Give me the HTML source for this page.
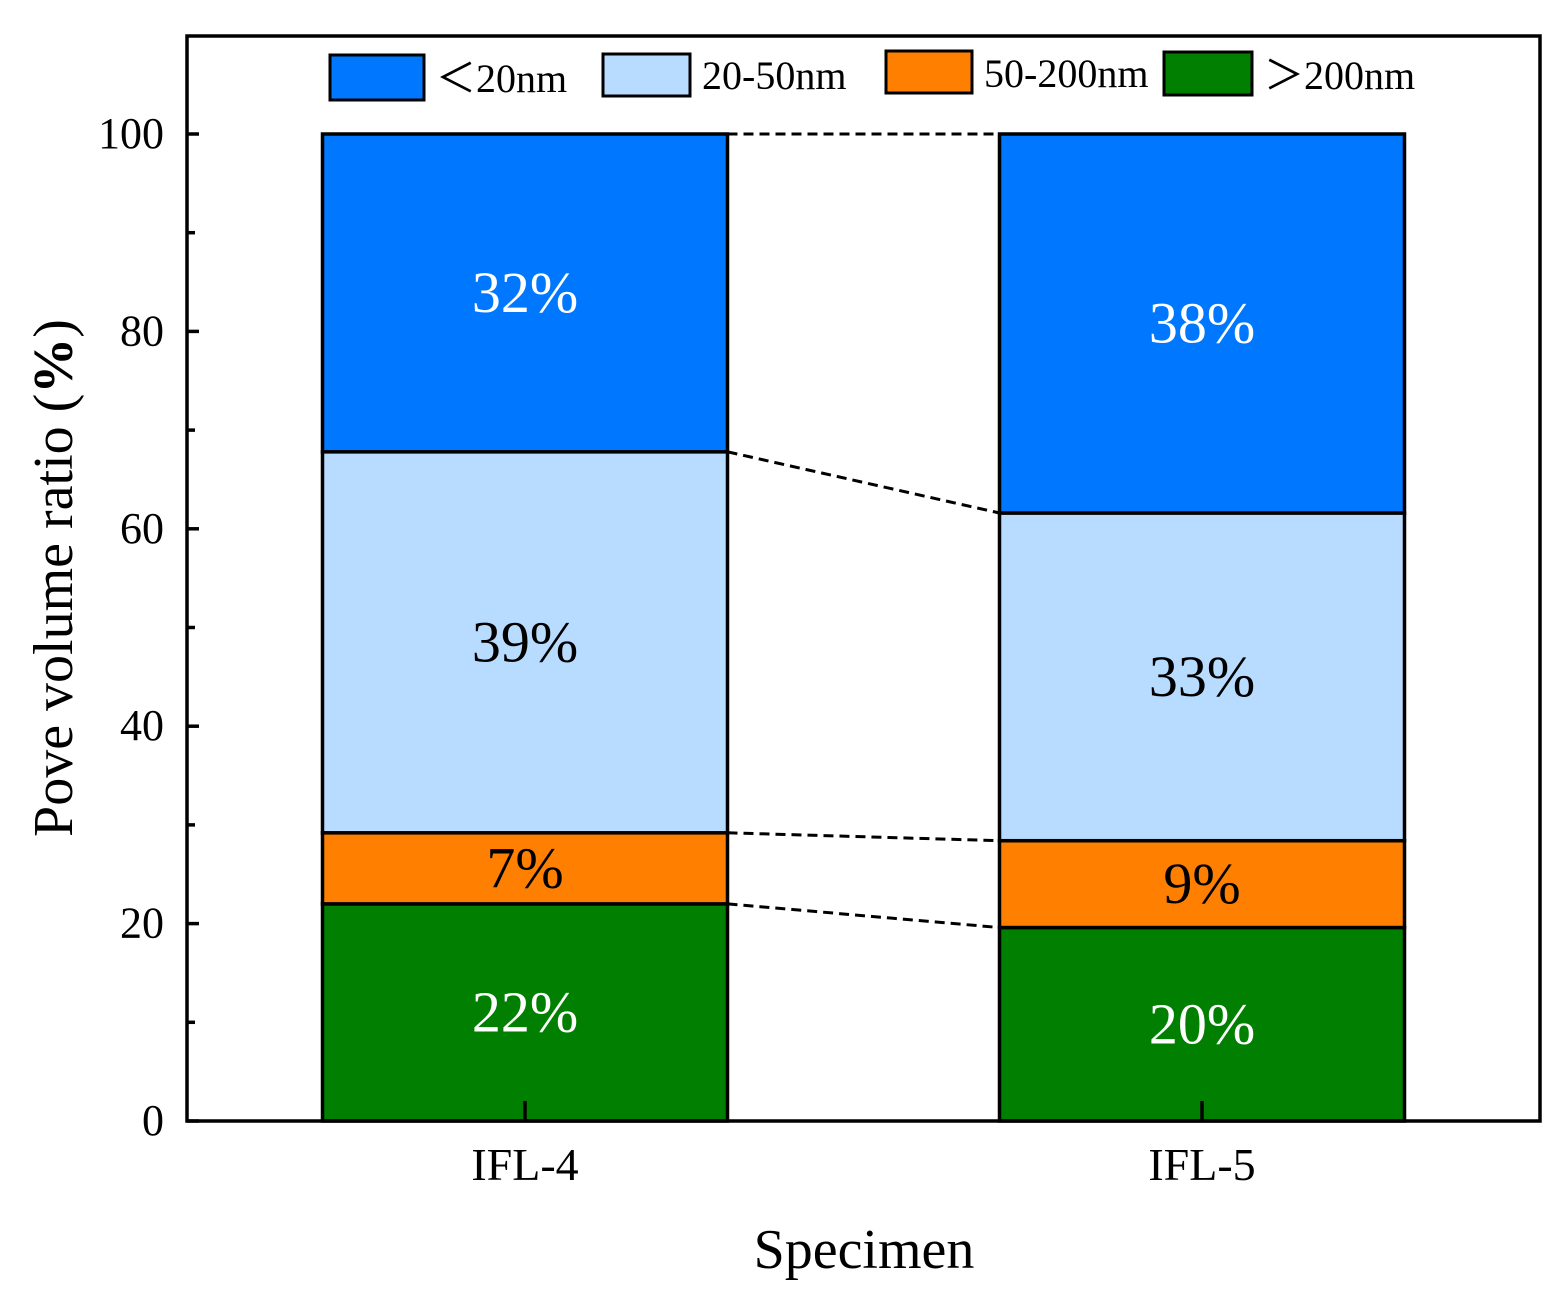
<!DOCTYPE html>
<html><head><meta charset="utf-8"><style>
body{margin:0;background:#fff}
svg text{font-family:"Liberation Serif",serif}
</style></head><body>
<svg id="chart" width="1563" height="1294" viewBox="0 0 1563 1294" xmlns="http://www.w3.org/2000/svg">
<rect x="0" y="0" width="1563" height="1294" fill="#fff"/>
<g id="marks"></g>
<rect x="187" y="36" width="1353" height="1085" fill="none" stroke="#000" stroke-width="3.5"/>
<g id="axes"></g>
<text x="864" y="1268" font-size="56" text-anchor="middle">Specimen</text>
<text transform="translate(72,578) rotate(-90)" font-size="56" text-anchor="middle">Pove volume ratio (<tspan font-weight="bold">%</tspan>)</text>
<g>
<rect x="330" y="55" width="94" height="45" fill="#0077ff" stroke="#000" stroke-width="3"/>
<text x="436" y="92" font-size="40">＜20nm</text>
<rect x="603" y="54" width="87" height="42" fill="#b8dcff" stroke="#000" stroke-width="3"/>
<text x="702" y="89" font-size="40">20-50nm</text>
<rect x="886" y="51" width="86" height="42" fill="#ff7f00" stroke="#000" stroke-width="3"/>
<text x="984" y="87" font-size="40">50-200nm</text>
<rect x="1164" y="52" width="88" height="43" fill="#007f00" stroke="#000" stroke-width="3"/>
<text x="1264" y="89" font-size="40">＞200nm</text>
</g>
</svg>
<script>
const categories = ["IFL-4", "IFL-5"];
const seriesNames = ["gt200", "50-200", "20-50", "lt20"];
const gt200 = [22, 19.6];
const s50to200 = [7.2, 8.8];
const s20to50 = [38.6, 33.2];
const lt20 = [32.2, 38.4];
const labelsGt200 = ["22%", "20%"];
const labels50to200 = ["7%", "9%"];
const labels20to50 = ["39%", "33%"];
const labelsLt20 = ["32%", "38%"];
const yTicks = [0, 20, 40, 60, 80, 100];
const yMinorTicks = [10, 30, 50, 70, 90];

const NS = "http://www.w3.org/2000/svg";
const y0 = 1121, y100 = 134;
const yScale = v => y0 - (y0 - y100) * v / 100;
const xCenter = i => 525 + i * 677;
const barW = 405;
const colors = ["#007f00", "#ff7f00", "#b8dcff", "#0077ff"];
const textColors = ["#fff", "#000", "#000", "#fff"];
const series = [gt200, s50to200, s20to50, lt20];
const labels = [labelsGt200, labels50to200, labels20to50, labelsLt20];
const marks = document.getElementById("marks");
const axes = document.getElementById("axes");
function mk(tag, attrs, parent) {
  const e = document.createElementNS(NS, tag);
  for (const k in attrs) e.setAttribute(k, attrs[k]);
  parent.appendChild(e);
  return e;
}
const tops = [];
categories.forEach((c, i) => {
  let cum = 0;
  tops[i] = [];
  series.forEach((s, j) => {
    const a = cum, b = cum + s[i];
    cum = b;
    tops[i][j] = b;
    const r = mk("rect", {x: xCenter(i) - barW / 2, y: yScale(b), width: barW, height: yScale(a) - yScale(b), fill: colors[j], stroke: "#000", "stroke-width": 3.5}, marks);
    
    
    const t = mk("text", {x: xCenter(i), y: (yScale(a) + yScale(b)) / 2 + 19, "font-size": 58, "text-anchor": "middle", fill: textColors[j]}, marks);
    t.textContent = labels[j][i];
    
    
  });
});
for (let j = 0; j < series.length; j++) {
  const l = mk("line", {x1: xCenter(0) + barW / 2, y1: yScale(tops[0][j]), x2: xCenter(1) - barW / 2, y2: yScale(tops[1][j]), stroke: "#000", "stroke-width": 3, "stroke-dasharray": "10,6"}, marks);
  
  
}
yTicks.forEach(v => {
  const l = mk("line", {x1: 187, x2: 199, y1: yScale(v), y2: yScale(v), stroke: "#000", "stroke-width": 3.5}, axes);
  
  
  const t = mk("text", {x: 164, y: yScale(v) + 14, "font-size": 44, "text-anchor": "end"}, axes);
  t.textContent = v;
  
  
});
yMinorTicks.forEach(v => {
  const l = mk("line", {x1: 187, x2: 195, y1: yScale(v), y2: yScale(v), stroke: "#000", "stroke-width": 3.5}, axes);
  
  
});
categories.forEach((c, i) => {
  const l = mk("line", {x1: xCenter(i), x2: xCenter(i), y1: 1121, y2: 1101, stroke: "#000", "stroke-width": 3.5}, axes);
  
  
  const t = mk("text", {x: xCenter(i), y: 1180, "font-size": 46, "text-anchor": "middle"}, axes);
  t.textContent = c;
  
  
});
</script>
</body></html>
